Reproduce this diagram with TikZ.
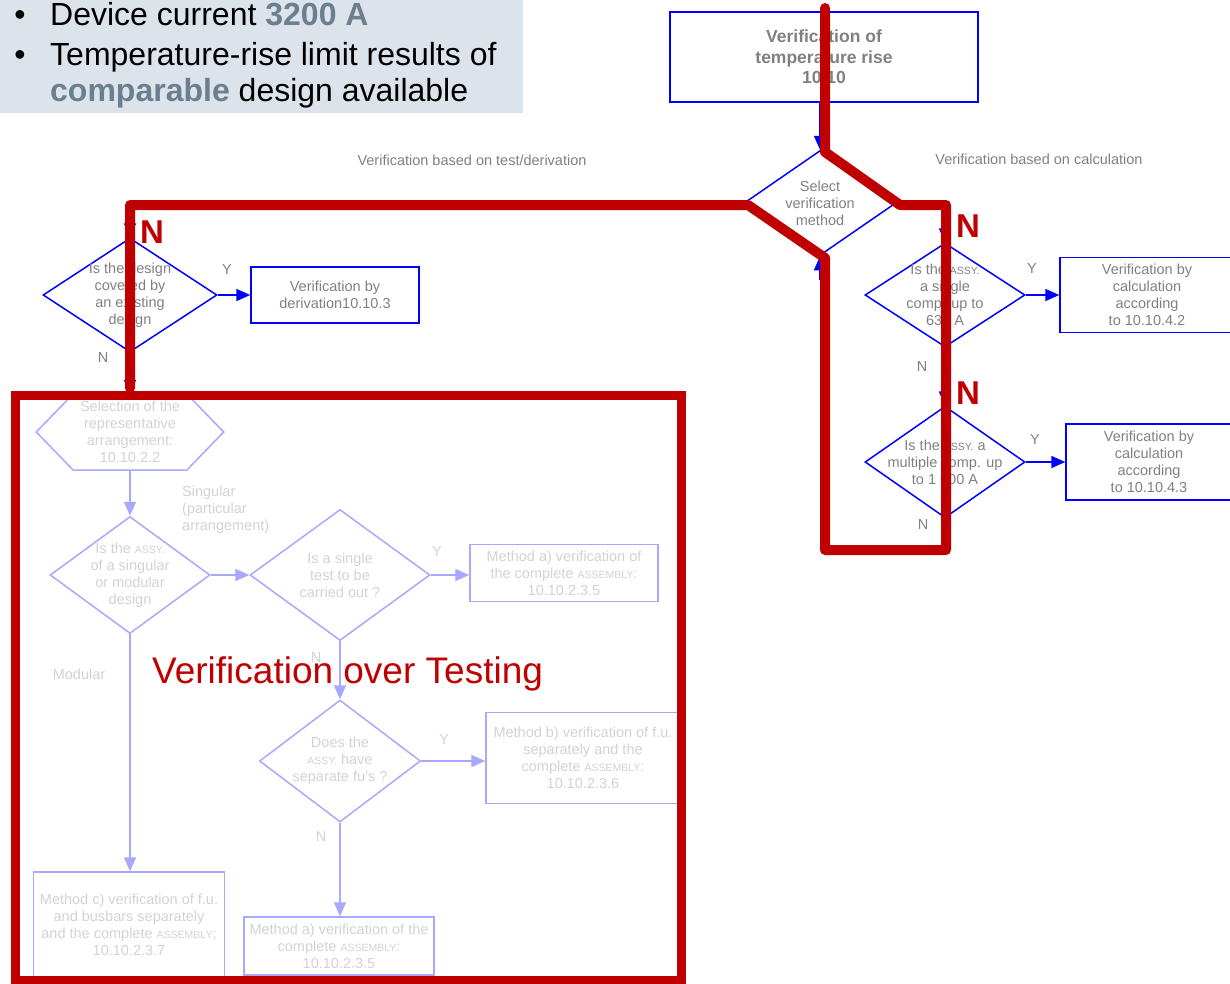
\documentclass[tikz,border=0pt]{standalone}
\usepackage{fontspec}
\setmainfont{Liberation Sans}
\usetikzlibrary{shapes.geometric, arrows.meta, positioning, calc}

\definecolor{flowblue}{RGB}{0,0,255}
\definecolor{flowgray}{RGB}{128,128,128}
\definecolor{fadeblue}{RGB}{168,168,255}
\definecolor{fadegray}{RGB}{210,210,210}
\definecolor{markred}{RGB}{192,0,0}
\definecolor{panelgray}{RGB}{221,227,234}
\definecolor{hlgray}{RGB}{106,127,143}

\newcommand{\assy}[1]{{\fontsize{10.5}{11}\selectfont #1}}
\newcommand{\hlword}[1]{\textcolor{hlgray}{\bfseries #1}}

\begin{document}
\begin{tikzpicture}[x=1pt, y=-1pt,
  bigtext/.style={inner sep=0pt, font=\fontsize{32}{38}\selectfont},
  flowtext/.style={text=flowgray, align=center, font=\fontsize{14.5}{17}\selectfont},
  fadetext/.style={text=fadegray, align=center, font=\fontsize{14.5}{17}\selectfont},
  decision/.style={diamond, draw=flowblue, line width=1.5pt, inner sep=-12pt, flowtext},
  procbox/.style={rectangle, draw=flowblue, line width=1.5pt, inner sep=0pt, flowtext},
  fadedecision/.style={diamond, draw=fadeblue, line width=1.5pt, inner sep=-12pt, fadetext},
  fadebox/.style={rectangle, draw=fadeblue, line width=1.5pt, inner sep=0pt, fadetext},
  flowarrow/.style={draw=flowblue, line width=1.8pt, -{Triangle[length=14pt,width=12pt]}},
  fadearrow/.style={draw=fadeblue, line width=1.8pt, -{Triangle[length=14pt,width=12pt]}},
  yn/.style={text=flowgray, inner sep=0pt, font=\fontsize{14.5}{17}\selectfont},
  fadeyn/.style={text=fadegray, inner sep=0pt, font=\fontsize{14.5}{17}\selectfont},
  markline/.style={draw=markred, line width=10pt, line join=round, line cap=round},
  markN/.style={text=markred, inner sep=0pt, font=\fontsize{33}{36}\selectfont\bfseries}]
\useasboundingbox (0,0) rectangle (1230,983);

% Highlight panel
\fill[panelgray] (0,0) rectangle (523,113);
\node[bigtext, anchor=base] (bulletA) at (20,25) {\textbullet};
\node[bigtext, anchor=base] (bulletB) at (20,65) {\textbullet};
\node[bigtext, anchor=base west] (current) at (50,25) {Device current \hlword{3200 A}};
\node[bigtext, anchor=base west] (limit) at (50,65) {Temperature-rise limit results of};
\node[bigtext, anchor=base west] (comparable) at (50,101) {\hlword{comparable} design available};

% Main flow
\node[procbox, minimum width=308pt, minimum height=90pt, font=\fontsize{17.5}{20.5}\selectfont\bfseries] (temprise) at (824,57) {Verification of\\temperature rise\\10.10};
\node[decision, minimum width=152pt, minimum height=105pt] (method) at (820,203) {Select\\verification\\method};
\node[yn] (testlabel) at (472,160) {Verification based on test/derivation};
\node[yn] (calclabel) at (1039,159) {Verification based on calculation};

\node[decision, minimum width=174pt, minimum height=114pt] (existing) at (130,295) {Is the design\\covered by\\an existing\\design};
\node[procbox, minimum width=168pt, minimum height=56pt] (derivation) at (335,295) {Verification by\\derivation10.10.3};

\node[decision, minimum width=160pt, minimum height=104pt] (single) at (945,295) {Is the \assy{ASSY.}\\a single\\comp. up to\\630 A};
\node[procbox, minimum width=174pt, minimum height=75pt] (calcsingle) at (1147,295) {Verification by\\calculation\\according\\to 10.10.4.2};
\node[decision, minimum width=160pt, minimum height=103pt] (multiple) at (945,462) {Is the \assy{ASSY.} a\\multiple comp. up\\to 1 600 A};
\node[procbox, minimum width=166pt, minimum height=76pt] (calcmulti) at (1149,462) {Verification by\\calculation\\according\\to 10.10.4.3};

\coordinate (back) at (820,280);
\draw[flowarrow] (temprise.south -| method.north) -- (method.north);
\draw[flowarrow] (method.west) -| (existing.north);
\draw[flowarrow] (method.east) -| (single.north);
\draw[flowarrow] (back) -- (method.south);
\draw[flowarrow] (existing.east) -- (derivation.west);
\draw[flowarrow] (single.east) -- (calcsingle.west);
\draw[flowarrow] (single.south) -- (multiple.north);
\draw[flowarrow] (multiple.east) -- (calcmulti.west);

\node[yn] (existY) at (227,270) {Y};
\node[yn] (existN) at (103,358) {N};
\node[yn] (singleY) at (1032,269) {Y};
\node[yn] (singleN) at (922,367) {N};
\node[yn] (multiY) at (1035,440) {Y};
\node[yn] (multiN) at (923,525) {N};

% Testing branch (faded)
\node[minimum width=187pt, minimum height=76pt, inner sep=0pt, fadetext] (arrangement) at (130,432) {Selection of the\\representative\\arrangement:\\10.10.2.2};
\draw[fadeblue, line width=1.5pt] ([xshift=37pt]arrangement.north west) -- ([xshift=-37pt]arrangement.north east) -- (arrangement.east) -- ([xshift=-37pt]arrangement.south east) -- ([xshift=37pt]arrangement.south west) -- (arrangement.west) -- cycle;
\node[fadedecision, minimum width=160pt, minimum height=117pt] (modular) at (130,575) {Is the \assy{ASSY.}\\of a singular\\or modular\\design};
\node[fadedecision, minimum width=180pt, minimum height=131pt] (singletest) at (340,575) {Is a single\\test to be\\carried out ?};
\node[fadebox, minimum width=188pt, minimum height=57pt] (methodA) at (564,573) {Method a) verification of\\the complete \assy{ASSEMBLY}:\\10.10.2.3.5};
\node[fadedecision, minimum width=161pt, minimum height=122pt] (separate) at (340,761) {Does the\\\assy{ASSY.} have\\separate fu's ?};
\node[fadebox, minimum width=194pt, minimum height=91pt] (methodB) at (583,758) {Method b) verification of f.u.\\separately and the\\complete \assy{ASSEMBLY}:\\10.10.2.3.6};
\node[fadebox, minimum width=191pt, minimum height=106pt] (methodC) at (129,925) {Method c) verification of f.u.\\and busbars separately\\and the complete \assy{ASSEMBLY};\\10.10.2.3.7};
\node[fadebox, minimum width=190pt, minimum height=58pt] (methodAtwo) at (339,946) {Method a) verification of the\\complete \assy{ASSEMBLY}:\\10.10.2.3.5};

\draw[flowarrow] (existing.south) -- (arrangement.north);
\draw[fadearrow] (arrangement.south) -- (modular.north);
\draw[fadearrow] (modular.east) -- (singletest.west);
\draw[fadearrow] (singletest.east) -- (singletest.east -| methodA.west);
\draw[fadearrow] (singletest.south) -- (separate.north);
\draw[fadearrow] (separate.east) -- (separate.east -| methodB.west);
\draw[fadearrow] (separate.south) -- (separate.south |- methodAtwo.north);
\draw[fadearrow] (modular.south) -- (modular.south |- methodC.north);

\node[fadeyn, align=left, anchor=north west] (singularlabel) at (182,486) {Singular\\(particular\\arrangement)};
\node[fadeyn] (modularlabel) at (79,674) {Modular};
\node[fadeyn] (testY) at (437,552) {Y};
\node[fadeyn] (testN) at (316,657) {N};
\node[fadeyn] (separateY) at (444,739) {Y};
\node[fadeyn] (separateN) at (321,836) {N};

% Red markings
\draw[markline] (825,8) -- (825,152) -- (900,205) -- (946,205) -- (946,550) -- (825,550) -- (825,258) -- (748,205) -- (130,205) -- (130,388);
\draw[draw=markred, line width=9pt] (15,395) rectangle (681,980);
\node[markN] (markA) at (152,232) {N};
\node[markN] (markB) at (968,226) {N};
\node[markN] (markC) at (968,393) {N};
\node[anchor=base west, inner sep=0pt, text=markred, font=\fontsize{37}{42}\selectfont] (overtesting) at (152,683) {Verification over Testing};
\end{tikzpicture}
\end{document}
